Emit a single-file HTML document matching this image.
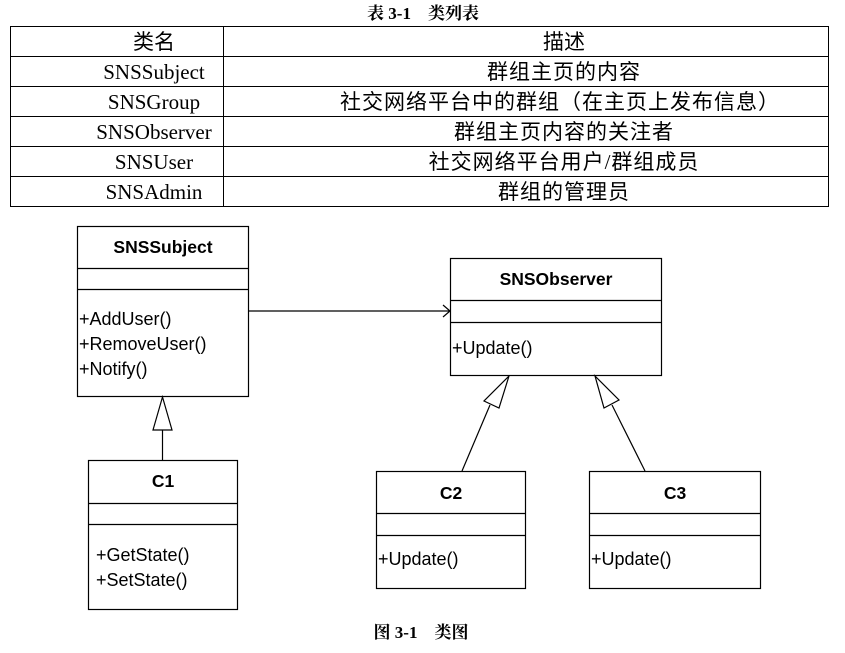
<!DOCTYPE html>
<html><head><meta charset="utf-8"><style>
body{margin:0;width:845px;height:648px;background:#fff;overflow:hidden}
</style></head><body>
<svg width="845" height="648" xmlns="http://www.w3.org/2000/svg">
<g font-family="'Liberation Serif','Noto Serif CJK SC',serif" text-anchor="middle" fill="#000">
<text x="423" y="19" font-size="17" font-weight="bold">表 3-1　类列表</text>
<text x="421" y="638" font-size="17" font-weight="bold">图 3-1　类图</text>
</g>
<g stroke="#000" stroke-width="1" fill="none">
<rect x="10.5" y="26.5" width="818" height="180"/>
<line x1="223.5" y1="26" x2="223.5" y2="207"/>
<line x1="10" y1="56.5" x2="829" y2="56.5"/>
<line x1="10" y1="86.5" x2="829" y2="86.5"/>
<line x1="10" y1="116.5" x2="829" y2="116.5"/>
<line x1="10" y1="146.5" x2="829" y2="146.5"/>
<line x1="10" y1="176.5" x2="829" y2="176.5"/>
</g>
<g font-family="'Liberation Serif','Noto Sans CJK SC',serif" font-size="21" text-anchor="middle" fill="#000">
<text x="154" y="49" textLength="0" font-size="0"></text>
<text x="154" y="49">类名</text><text x="564" y="49">描述</text>
<text x="154" y="79">SNSSubject</text><text x="564" y="79" letter-spacing="1">群组主页的内容</text>
<text x="154" y="109">SNSGroup</text><text x="560" y="109" letter-spacing="1">社交网络平台中的群组（在主页上发布信息）</text>
<text x="154" y="139">SNSObserver</text><text x="564" y="139" letter-spacing="1">群组主页内容的关注者</text>
<text x="154" y="169">SNSUser</text><text x="564" y="169" letter-spacing="1">社交网络平台用户/群组成员</text>
<text x="154" y="199">SNSAdmin</text><text x="564" y="199" letter-spacing="1">群组的管理员</text>
</g>
<g stroke="#000" stroke-width="1.2" fill="#fff">
<rect x="77.5" y="226.5" width="171" height="170"/>
<line x1="77" y1="268.5" x2="248" y2="268.5"/><line x1="77" y1="289.5" x2="248" y2="289.5"/>
<rect x="88.5" y="460.5" width="149" height="149"/>
<line x1="88" y1="503.5" x2="237" y2="503.5"/><line x1="88" y1="524.5" x2="237" y2="524.5"/>
<rect x="450.5" y="258.5" width="211" height="117"/>
<line x1="450" y1="300.5" x2="661" y2="300.5"/><line x1="450" y1="322.5" x2="661" y2="322.5"/>
<rect x="376.5" y="471.5" width="149" height="117"/>
<line x1="376" y1="513.5" x2="525" y2="513.5"/><line x1="376" y1="535.5" x2="525" y2="535.5"/>
<rect x="589.5" y="471.5" width="171" height="117"/>
<line x1="589" y1="513.5" x2="760" y2="513.5"/><line x1="589" y1="535.5" x2="760" y2="535.5"/>
<line x1="248" y1="311" x2="450" y2="311" fill="none"/>
<polyline points="443,305 450,311 443,317" fill="none"/>
<line x1="162.5" y1="430" x2="162.5" y2="460"/>
<polygon points="162.5,397 153,430 172,430"/>
<line x1="462" y1="471" x2="490" y2="405"/>
<polygon points="509,376 484,401 499,408"/>
<line x1="645" y1="471" x2="612" y2="405"/>
<polygon points="595,376 604,408 619,400"/>
</g>
<g font-family="'Liberation Sans','DejaVu Sans',sans-serif" font-size="18" fill="#000">
<g font-weight="bold" text-anchor="middle" font-size="17.5">
<text x="163" y="253">SNSSubject</text>
<text x="163" y="487">C1</text>
<text x="556" y="285">SNSObserver</text>
<text x="451" y="499">C2</text>
<text x="675" y="499">C3</text>
</g>
<text x="79" y="325">+AddUser()</text>
<text x="79" y="350">+RemoveUser()</text>
<text x="79" y="375">+Notify()</text>
<text x="96" y="561">+GetState()</text>
<text x="96" y="586">+SetState()</text>
<text x="452" y="354">+Update()</text>
<text x="378" y="565">+Update()</text>
<text x="591" y="565">+Update()</text>
</g>
</svg>
</body></html>
